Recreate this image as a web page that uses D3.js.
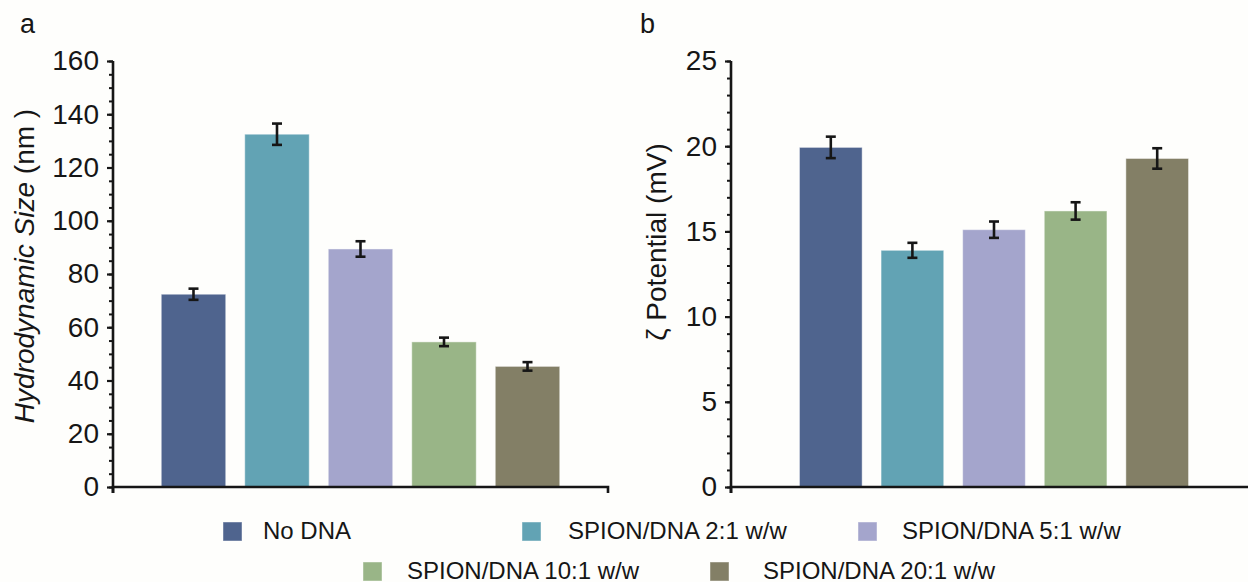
<!DOCTYPE html>
<html>
<head>
<meta charset="utf-8">
<script src="https://cdn.jsdelivr.net/npm/d3@7"></script>
<style>
  html, body { margin: 0; padding: 0; background: #fefefc; }
  svg { display: block; font-family: "Liberation Sans", Arial, sans-serif; }
</style>
</head>
<body>
<svg id="chart" width="1248" height="582"></svg>
<script>
// ---- data ----
const categories = ["No DNA", "SPION/DNA 2:1 w/w", "SPION/DNA 5:1 w/w", "SPION/DNA 10:1 w/w", "SPION/DNA 20:1 w/w"];
const colors = ["#4f648e", "#62a3b4", "#a4a5cc", "#99b587", "#837f66"];
const sizeValues = [72.4, 132.5, 89.4, 54.5, 45.3];
const sizeErrors = [2.1, 4.0, 2.9, 1.6, 1.6];
const zetaValues = [19.93, 13.89, 15.10, 16.20, 19.28];
const zetaErrors = [0.63, 0.44, 0.48, 0.51, 0.60];
const sizeTicks = [0, 20, 40, 60, 80, 100, 120, 140, 160];
const zetaTicks = [0, 5, 10, 15, 20, 25];

const svg = d3.select("#chart");
const ink = "#161616";

function panel(opts) {
  const g = svg.append("g");
  const y = d3.scaleLinear().domain(opts.domain).range([487, 61]);
  const x = d3.scaleBand().domain(categories).range(opts.xRange)
    .paddingInner(opts.pi).paddingOuter(opts.po);

  // bars
  g.selectAll("rect.bar").data(opts.values).join("rect")
    .attr("class", "bar")
    .attr("x", (d, i) => x(categories[i]))
    .attr("width", x.bandwidth())
    .attr("y", d => y(d))
    .attr("height", d => y(0) - y(d))
    .attr("fill", (d, i) => colors[i])
    .attr("stroke", "rgba(255,255,255,0.45)")
    .attr("stroke-width", 1);

  // error bars
  const eb = g.selectAll("g.err").data(opts.values).join("g").attr("class", "err");
  const cx = (i) => x(categories[i]) + x.bandwidth() / 2;
  eb.append("line")
    .attr("x1", (d, i) => cx(i)).attr("x2", (d, i) => cx(i))
    .attr("y1", (d, i) => y(d - opts.errors[i])).attr("y2", (d, i) => y(d + opts.errors[i]))
    .attr("stroke", ink).attr("stroke-width", 2.6);
  [1, -1].forEach(s => {
    eb.append("line")
      .attr("x1", (d, i) => cx(i) - 5).attr("x2", (d, i) => cx(i) + 5)
      .attr("y1", (d, i) => y(d + s * opts.errors[i])).attr("y2", (d, i) => y(d + s * opts.errors[i]))
      .attr("stroke", ink).attr("stroke-width", 2.6);
  });

  // x axis line
  const xAxisG = g.append("g").attr("transform", "translate(0,487)")
    .call(d3.axisBottom(x).tickValues([]).tickSizeOuter(6));
  xAxisG.select(".domain").attr("stroke", ink).attr("stroke-width", 2.6)
    .attr("d", `M${opts.axisX},6V0H${opts.xEnd}V6`);

  // minor ticks
  const minor = g.append("g").attr("transform", `translate(${opts.axisX},0)`)
    .call(d3.axisLeft(y).tickValues(d3.range(opts.domain[0], opts.domain[1] + 0.001, opts.minorStep))
      .tickSize(4).tickFormat(""));
  minor.select(".domain").remove();
  minor.selectAll("line").attr("stroke", ink).attr("stroke-width", 2);

  // major ticks with labels
  const major = g.append("g").attr("transform", `translate(${opts.axisX},0)`)
    .call(d3.axisLeft(y).tickValues(opts.ticks).tickSize(6).tickSizeOuter(0).tickPadding(opts.tickPad));
  major.select(".domain").attr("stroke", ink).attr("stroke-width", 2.6)
    .attr("d", `M0,61V493`);
  major.selectAll(".tick line").attr("stroke", ink).attr("stroke-width", 2.2);
  major.selectAll(".tick text").attr("fill", ink).attr("font-size", 28)
    .attr("font-family", "'Liberation Sans', Arial, sans-serif");

  // y title
  const t = g.append("text")
    .attr("transform", `translate(${opts.titleX},${opts.titleY}) rotate(-90)`)
    .attr("text-anchor", "middle").attr("fill", ink).attr("font-size", 28);
  opts.title.forEach(p => t.append("tspan").attr("font-style", p.italic ? "italic" : "normal").text(p.text));

  // panel letter
  g.append("text").attr("x", opts.letterX).attr("y", 33).attr("fill", ink)
    .attr("font-size", 27).text(opts.letter);
}

panel({
  domain: [0, 160], values: sizeValues, errors: sizeErrors, ticks: sizeTicks, minorStep: 5,
  axisX: 113, xEnd: 608, xRange: [113, 608], pi: 0.228, po: 0.578, tickPad: 8,
  title: [{ text: "Hydrodynamic Size", italic: true }, { text: " (nm )", italic: false }],
  titleX: 34, titleY: 266, letter: "a", letterX: 20
});

panel({
  domain: [0, 25], values: zetaValues, errors: zetaErrors, ticks: zetaTicks, minorStep: 1,
  axisX: 731, xEnd: 1250, xRange: [731, 1257], pi: 0.232, po: 0.839, tickPad: 8,
  title: [{ text: "ζ Potential (mV)", italic: false }],
  titleX: 666, titleY: 242, letter: "b", letterX: 640
});

// legend
const legendPos = [
  { sx: 223, sy: 522, tx: 263, ty: 538.5 },
  { sx: 522, sy: 522, tx: 568, ty: 538.5 },
  { sx: 858, sy: 522, tx: 902, ty: 538.5 },
  { sx: 363, sy: 562, tx: 407, ty: 578.5 },
  { sx: 710, sy: 562, tx: 763, ty: 578.5 }
];
const lg = svg.append("g");
categories.forEach((c, i) => {
  const p = legendPos[i];
  lg.append("rect").attr("x", p.sx).attr("y", p.sy).attr("width", 19).attr("height", 19)
    .attr("fill", colors[i]).attr("stroke", "rgba(255,255,255,0.45)").attr("stroke-width", 1);
  lg.append("text").attr("x", p.tx).attr("y", p.ty).attr("font-size", 24).attr("fill", ink).text(c);
});
</script>
</body>
</html>
